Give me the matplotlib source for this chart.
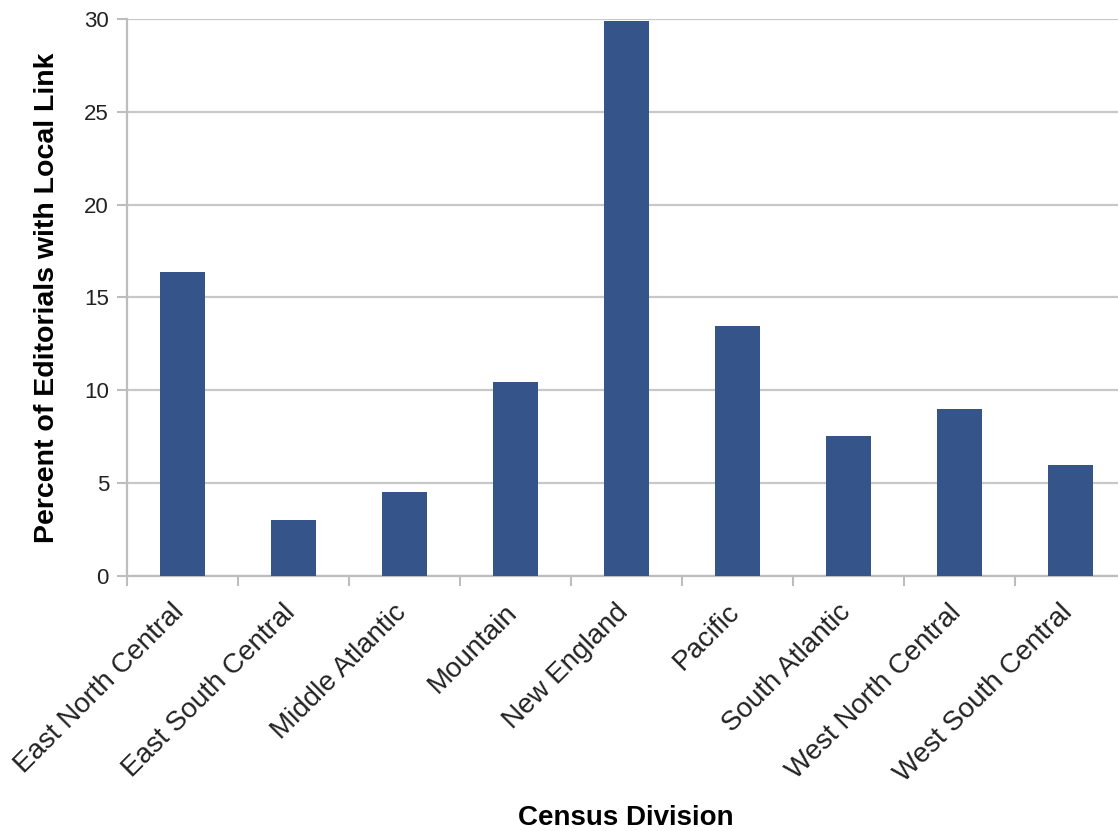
import matplotlib
matplotlib.use("Agg")
import matplotlib.pyplot as plt
import matplotlib.transforms as mtransforms
import numpy as np

plt.rcParams['font.family'] = ['Liberation Sans', 'DejaVu Sans']

divisions = ["East North Central", "East South Central", "Middle Atlantic",
             "Mountain", "New England", "Pacific", "South Atlantic",
             "West North Central", "West South Central"]
percent_local = [16.4, 3.0, 4.5, 10.45, 29.9, 13.45, 7.55, 9.0, 6.0]
y_ticks = [0, 5, 10, 15, 20, 25, 30]

fig = plt.figure(figsize=(11.18, 8.31), dpi=100)
ax = fig.add_axes([0.1136, 0.3069, 0.8936, 0.6702])

x = np.arange(len(divisions))
ax.bar(x, percent_local, width=0.4, color="#34548a", zorder=3)

ax.set_xlim(-0.5, len(divisions) - 0.5)
ax.set_ylim(0, 30)
ax.set_yticks(y_ticks)
ax.yaxis.grid(True, color="#c8c8c8", linewidth=1.6, zorder=0)

# ticks at the category boundaries, labels under the bars
ax.set_xticks(np.arange(len(divisions) + 1) - 0.5)
ax.set_xticklabels([])
ax.set_xticks(x, minor=True)
ax.set_xticklabels(divisions, minor=True, rotation=45, ha="right", va="center",
                   rotation_mode="anchor", fontsize=20, color="#222222")
ax.tick_params(axis="x", which="minor", length=0, pad=14)
ax.tick_params(axis="x", which="major", length=7, width=1.5, color="#bdbdbd")
ax.tick_params(axis="y", length=7, width=1.5, color="#bdbdbd", labelsize=16,
               labelcolor="#222222", pad=6)

# nudge the rotated labels down a bit
shift = mtransforms.ScaledTranslation(-2 / 100, -13 / 100, fig.dpi_scale_trans)
for lab in ax.get_xticklabels(minor=True):
    lab.set_transform(lab.get_transform() + shift)

for s in ["top", "right"]:
    ax.spines[s].set_visible(False)
for s in ["left", "bottom"]:
    ax.spines[s].set_color("#bdbdbd")
    ax.spines[s].set_linewidth(1.6)

ax.set_ylabel("Percent of Editorials with Local Link", fontsize=20.5,
              fontweight="bold", labelpad=17)
fig.text(0.56, 0.0156, "Census Division", fontsize=20, fontweight="bold",
         ha="center", va="center")

fig.savefig("out.png", dpi=100)
